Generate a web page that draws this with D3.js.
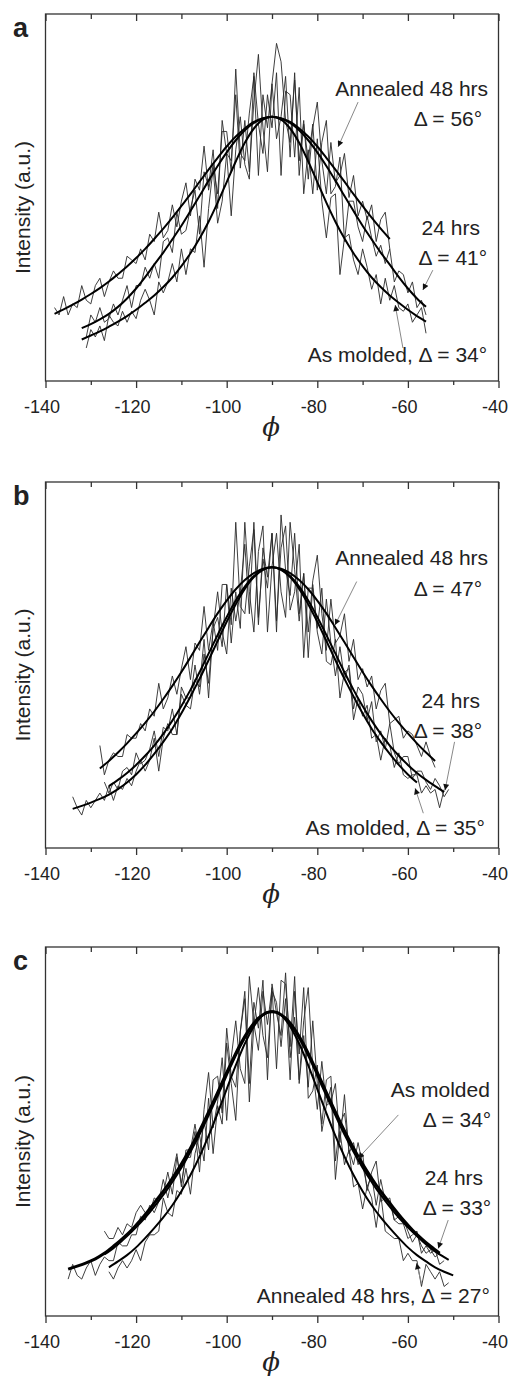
<!DOCTYPE html>
<html>
<head>
<meta charset="utf-8">
<script src="https://cdn.jsdelivr.net/npm/d3@7"></script>
<style>
  body { margin: 0; background: #fff; }
  svg { display: block; font-family: "Liberation Sans", Arial, sans-serif; }
</style>
</head>
<body>
<svg id="chart" width="509" height="1379"></svg>
<script>
// x axis ticks (phi, degrees)
var majorTicks = [-140, -120, -100, -80, -60, -40];
var minorTicks = [-130, -110, -90, -70, -50];

// ---- panel a ----
// measured intensity, one value per degree, starting at the given phi
var a48DataStart = -138;
var a48Data = [20,18,23,18,21,20,26,22,21,26,28,23,27,30,28,28,34,33,32,36,33,40,38,46,39,41,48,42,49,54,45,55,52,64,52,59,51,68,68,57,85,62,60,73,83,56,78,69,81,92,87,71,65,82,60,71,55,69,76,60,51,65,54,56,62,50,56,45,49,44,48,38,44,46,36];
var a24DataStart = -131;
var a24Data = [12,18,16,20,16,17,21,18,22,26,20,26,26,31,28,32,28,38,39,35,46,40,41,47,52,40,57,53,63,47,71,62,60,78,58,71,57,76,89,69,57,81,66,72,83,61,84,56,70,60,70,52,65,71,51,53,61,38,49,49,42,38,45,39,34,37,32,36,27,30,29,24,27,20,22,18];
var aAMDataStart = -131;
var aAMData = [9,14,12,15,11,18,16,15,19,16,19,17,22,25,22,18,27,24,27,32,27,36,29,36,35,45,31,47,58,43,49,62,45,63,72,59,55,84,70,62,78,69,84,56,79,78,61,80,51,63,51,66,49,39,50,51,29,39,40,33,29,36,31,25,29,21,28,22,26,20,19,21,16,18,20,13];
// fitted curves, one value every 2 degrees
var a48FitStart = -138;
var a48Fit = [18.3,19.5,20.8,22.2,23.7,25.3,27.1,29.1,31.2,33.5,36,38.7,41.5,44.5,47.7,50.9,54.3,57.6,60.8,63.9,66.6,68.8,70.6,71.6,72,71.6,70.6,68.8,66.6,63.9,60.8,57.6,54.3,50.9,47.7,44.5,41.5,38.7];
var a24FitStart = -132;
var a24Fit = [14.4,15.5,16.8,18.3,20.2,22.5,25.2,28.3,31.7,35,38.6,42.3,46.3,50.4,54.6,58.6,62.3,65.6,68.3,70.3,71.5,72,71.5,70.3,68.3,65.6,62.3,58.6,54.6,50.4,46.3,42.3,38.6,35,31.7,28.3,25.2,22.5,20.2];
var aAMFitStart = -132;
var aAMFit = [11.3,12.4,13.5,14.8,16.2,17.7,19.4,21.3,23.3,25.6,28.2,31.3,34.8,38.8,43.4,48.6,54.2,59.8,64.9,68.8,71.2,72,71.2,68.8,64.9,59.8,54.2,48.6,43.4,38.8,34.8,31.3,28.2,25.6,23.3,21.3,19.4,17.7,16.2];

// ---- panel b ----
var b48DataStart = -128;
var b48Data = [28,20,24,26,25,25,31,30,30,34,32,38,36,45,38,41,47,42,49,55,46,56,54,66,54,62,54,72,72,61,89,66,64,77,87,61,82,74,86,59,91,76,69,86,64,75,59,73,80,64,54,68,56,58,64,51,57,46,49,44,47,38,43,45,34,35,36,30,32,31,28,25,29,25,22];
var b24DataStart = -127;
var b24Data = [18,15,18,16,21,22,20,26,23,24,27,32,25,33,32,38,31,44,41,41,50,42,53,45,60,70,59,53,71,62,70,83,64,89,63,79,71,86,62,82,88,65,70,83,52,71,71,59,53,68,56,47,55,46,50,38,44,42,35,40,29,32,27,34,26,23,25,25,19,21,21,18,16,19,17,14,16];
var bAMDataStart = -134;
var bAMData = [14,11,9,13,11,13,15,13,17,13,17,16,19,17,21,24,21,24,30,21,30,34,31,31,42,39,38,46,44,57,41,60,63,55,72,56,70,60,89,70,59,81,88,59,77,86,70,63,89,76,62,75,52,72,60,71,51,50,57,41,48,49,35,41,36,39,30,31,24,30,28,22,26,20,19,20,20,15,17,15,16,11,16];
var b48FitStart = -128;
var b48Fit = [21.7,23.8,26.1,28.6,31.3,34.2,37.3,40.7,44.3,48.1,52.1,56.2,60.2,64.1,67.6,70.7,73.2,75.1,76.3,76.7,76.3,75.1,73.2,70.7,67.6,64.1,60.2,56.2,52.1,48.1,44.3,40.7,37.3,34.2,31.3,28.6,26.1,23.8];
var b24FitStart = -126;
var b24Fit = [16.9,18.6,20.5,22.7,25.2,28,31.2,34.8,38.8,43.2,48,53.1,58.2,63.1,67.6,71.4,74.3,76.1,76.7,76.1,74.3,71.4,67.6,63.1,58.2,53.1,48,43.2,38.8,34.8,31.2,28,25.2,22.7,20.5,18.6,16.9,15.3];
var bAMFitStart = -134;
var bAMFit = [10.7,11.5,12.4,13.4,14.6,16.1,17.9,20.1,22.7,25.7,29,32.6,36.8,41.4,46.2,51.3,56.6,61.8,66.6,70.8,74,76,76.7,76,74,70.8,66.6,61.8,56.6,51.3,46.2,41.4,36.8,32.6,29,25.7,22.7,20.1,17.9];

// ---- panel c ----
var cAMDataStart = -135;
var cAMData = [10,14,11,10,13,15,11,14,16,15,15,20,19,19,22,22,27,26,30,28,31,37,32,38,44,35,45,45,52,44,53,45,64,65,55,78,65,62,77,88,63,85,78,91,64,90,82,76,93,70,81,64,80,89,67,56,69,57,58,63,47,60,44,47,41,44,34,39,42,31,32,31,26,27,26,23,20,22,19,17,18,16,17];
var c24DataStart = -127;
var c24Data = [23,21,21,24,22,25,24,28,30,28,28,32,31,33,39,33,43,36,43,43,50,39,56,66,51,58,70,53,70,80,67,63,92,79,72,88,79,89,67,91,90,73,92,63,76,62,80,63,52,64,65,42,52,55,45,41,47,41,35,38,30,37,31,32,26,25,25,21,22,23,17,19,17,18,14,15];
var c48DataStart = -126;
var c48Data = [12,10,13,15,13,15,18,15,20,22,22,23,32,28,27,34,33,40,33,44,49,42,59,44,57,52,74,63,53,77,86,58,79,89,76,70,88,85,73,86,64,88,71,89,59,61,68,50,57,62,37,50,41,45,35,36,29,35,32,24,33,23,22,21,21,15,17,15,15,8,14,12,10,12,8,9];
var cAMFitStart = -135;
var cAMFit = [12.7,13.5,14.4,15.5,17,18.9,21,23.3,26,29,32.2,35.5,39.2,43.3,47.8,52.7,57.9,63.3,68.6,73.6,77.7,80.7,82.3,82.3,80.7,77.7,73.6,68.6,63.3,57.9,52.7,47.8,43.3,39.2,35.5,32.2,29,26,23.3,21,18.9,17];
var c24FitStart = -127;
var c24Fit = [16.7,18.4,20.5,22.8,25.3,28.1,31.2,34.5,38.2,42.3,46.8,51.7,57,62.4,67.9,73,77.3,80.5,82.3,82.3,80.5,77.3,73,67.9,62.4,57,51.7,46.8,42.3,38.2,34.5,31.2,28.1,25.3,22.8,20.5,18.4,16.7,15.2];
var c48FitStart = -126;
var c48Fit = [13.2,14.8,16.5,18.6,21.1,23.8,26.7,30,33.8,38.2,43.2,48.8,55,61.5,67.9,73.8,78.5,81.5,82.5,81.5,78.5,73.8,67.9,61.5,55,48.8,43.2,38.2,33.8,30,26.7,23.8,21.1,18.6,16.5,14.8,13.2,12,11];

// annotation texts and where they sit, in data units (phi, intensity)
var aLabels = [["Annealed 48 hrs", -42.3, 77.7], ["Δ = 56°", -43.6, 69.5], ["24 hrs", -44.1, 39.8], ["Δ = 41°", -42.5, 31.6], ["As molded, Δ = 34°", -42.5, 5.2]];
var aArrows = [[-71.0, 76.0, -75.4, 63.8], [-54.5, 30.2, -56.7, 24.8], [-61.1, 9.0, -62.8, 20.7]];
var bLabels = [["Annealed 48 hrs", -42.3, 77.3], ["Δ = 47°", -43.6, 68.9], ["24 hrs", -44.1, 38.2], ["Δ = 38°", -43.6, 30.0], ["As molded, Δ = 35°", -43, 3.6]];
var bArrows = [[-71.3, 72.8, -76.1, 60.9], [-49.7, 29.0, -51.8, 15.8], [-56.6, 9.5, -58.4, 16.3]];
var cLabels = [["As molded", -41.9, 59.4], ["Δ = 34°", -41.6, 51.3], ["24 hrs", -43.4, 35.5], ["Δ = 33°", -41.6, 27.4], ["Annealed 48 hrs, Δ = 27°", -41.9, 3.4]];
var cArrows = [[-62.1, 54.5, -71.0, 42.7], [-51.1, 26.0, -53.3, 18.3], [-57.0, 8.9, -58.1, 14.3]];

function series(start, step, values) {
  return values.map(function(v, i) { return [start + i * step, v]; });
}

var panels = [
  { letter: "a", top: 14, bottom: 381,
    traces: [series(a48DataStart, 1, a48Data), series(a24DataStart, 1, a24Data), series(aAMDataStart, 1, aAMData)],
    fits: [[series(a48FitStart, 2, a48Fit), 2], [series(a24FitStart, 2, a24Fit), 2], [series(aAMFitStart, 2, aAMFit), 2]],
    labels: aLabels, arrows: aArrows },
  { letter: "b", top: 482, bottom: 848,
    traces: [series(b48DataStart, 1, b48Data), series(b24DataStart, 1, b24Data), series(bAMDataStart, 1, bAMData)],
    fits: [[series(b48FitStart, 2, b48Fit), 2], [series(b24FitStart, 2, b24Fit), 2], [series(bAMFitStart, 2, bAMFit), 2]],
    labels: bLabels, arrows: bArrows },
  { letter: "c", top: 947, bottom: 1316,
    traces: [series(cAMDataStart, 1, cAMData), series(c24DataStart, 1, c24Data), series(c48DataStart, 1, c48Data)],
    fits: [[series(cAMFitStart, 2, cAMFit), 3], [series(c24FitStart, 2, c24Fit), 2], [series(c48FitStart, 2, c48Fit), 2]],
    labels: cLabels, arrows: cArrows }
];

var svg = d3.select("#chart");
svg.append("rect").attr("width", 509).attr("height", 1379).attr("fill", "#fff");

// small black arrow head
svg.append("defs").append("marker")
    .attr("id", "head")
    .attr("viewBox", "0 0 10 10")
    .attr("refX", 10).attr("refY", 5)
    .attr("markerWidth", 7).attr("markerHeight", 6)
    .attr("markerUnits", "userSpaceOnUse")
    .attr("orient", "auto")
  .append("path")
    .attr("d", "M0,0L10,5L0,10z")
    .attr("fill", "#111");

var x = d3.scaleLinear().domain([-140, -40]).range([45.5, 498.5]);

panels.forEach(function(p) {
  var y = d3.scaleLinear().domain([0, 100]).range([p.bottom, p.top]);
  var g = svg.append("g");

  // measured traces (noisy)
  var rough = d3.line().x(function(d) { return x(d[0]); }).y(function(d) { return y(d[1]); });
  p.traces.forEach(function(t) {
    g.append("path").datum(t)
      .attr("d", rough)
      .attr("fill", "none")
      .attr("stroke", "#2a2a2a")
      .attr("stroke-width", 0.9)
      .attr("stroke-linejoin", "bevel");
  });

  // fitted curves
  var smooth = d3.line().curve(d3.curveCatmullRom.alpha(0.5))
      .x(function(d) { return x(d[0]); }).y(function(d) { return y(d[1]); });
  p.fits.forEach(function(f) {
    g.append("path").datum(f[0])
      .attr("d", smooth)
      .attr("fill", "none")
      .attr("stroke", "#000")
      .attr("stroke-width", f[1]);
  });

  // frame
  g.append("rect")
    .attr("x", x(-140)).attr("y", p.top)
    .attr("width", x(-40) - x(-140)).attr("height", p.bottom - p.top)
    .attr("fill", "none").attr("stroke", "#333").attr("stroke-width", 1.3);

  // bottom axis: major ticks with labels, then minor ticks
  var bottom = g.append("g").attr("transform", "translate(0," + p.bottom + ")");
  bottom.call(d3.axisBottom(x).tickValues(majorTicks).tickSize(7).tickSizeOuter(0).tickPadding(12)
      .tickFormat(function(d) { return String(d); }));
  bottom.append("g").call(d3.axisBottom(x).tickValues(minorTicks).tickSize(4).tickSizeOuter(0).tickFormat(""));
  bottom.selectAll(".domain").remove();
  bottom.selectAll("text").attr("font-size", 18).attr("font-family", "Liberation Sans, Arial, sans-serif")
      .attr("fill", "#222").attr("dx", -4);
  bottom.selectAll("line").attr("stroke", "#333").attr("stroke-width", 1.3);

  // top axis: ticks pointing in
  var topAx = g.append("g").attr("transform", "translate(0," + p.top + ")");
  topAx.call(d3.axisTop(x).tickValues(majorTicks).tickSize(-7).tickSizeOuter(0).tickFormat(""));
  topAx.append("g").call(d3.axisTop(x).tickValues(minorTicks).tickSize(-5).tickSizeOuter(0).tickFormat(""));
  topAx.selectAll(".domain").remove();
  topAx.selectAll("line").attr("stroke", "#333").attr("stroke-width", 1.3);

  // axis titles
  g.append("text")
    .attr("transform", "translate(30," + ((p.top + p.bottom) / 2 + 10) + ") rotate(-90)")
    .attr("text-anchor", "middle")
    .attr("font-size", 21).attr("fill", "#222")
    .text("Intensity (a.u.)");
  g.append("text")
    .attr("x", x(-90) - 1).attr("y", p.bottom + 55)
    .attr("text-anchor", "middle")
    .attr("font-family", "DejaVu Serif, Liberation Serif, serif")
    .attr("font-style", "italic")
    .attr("font-size", 26).attr("fill", "#222")
    .text("ϕ");

  // panel letter
  g.append("text")
    .attr("x", 13).attr("y", p.top + 23)
    .attr("font-size", 27).attr("font-weight", "bold").attr("fill", "#222")
    .text(p.letter);

  // annotations
  p.arrows.forEach(function(a) {
    g.append("line")
      .attr("x1", x(a[0])).attr("y1", y(a[1]))
      .attr("x2", x(a[2])).attr("y2", y(a[3]))
      .attr("stroke", "#888").attr("stroke-width", 1)
      .attr("marker-end", "url(#head)");
  });
  p.labels.forEach(function(l) {
    g.append("text")
      .attr("x", x(l[1])).attr("y", y(l[2]))
      .attr("text-anchor", "end")
      .attr("font-size", 21).attr("fill", "#222")
      .text(l[0]);
  });
});
</script>
</body>
</html>
